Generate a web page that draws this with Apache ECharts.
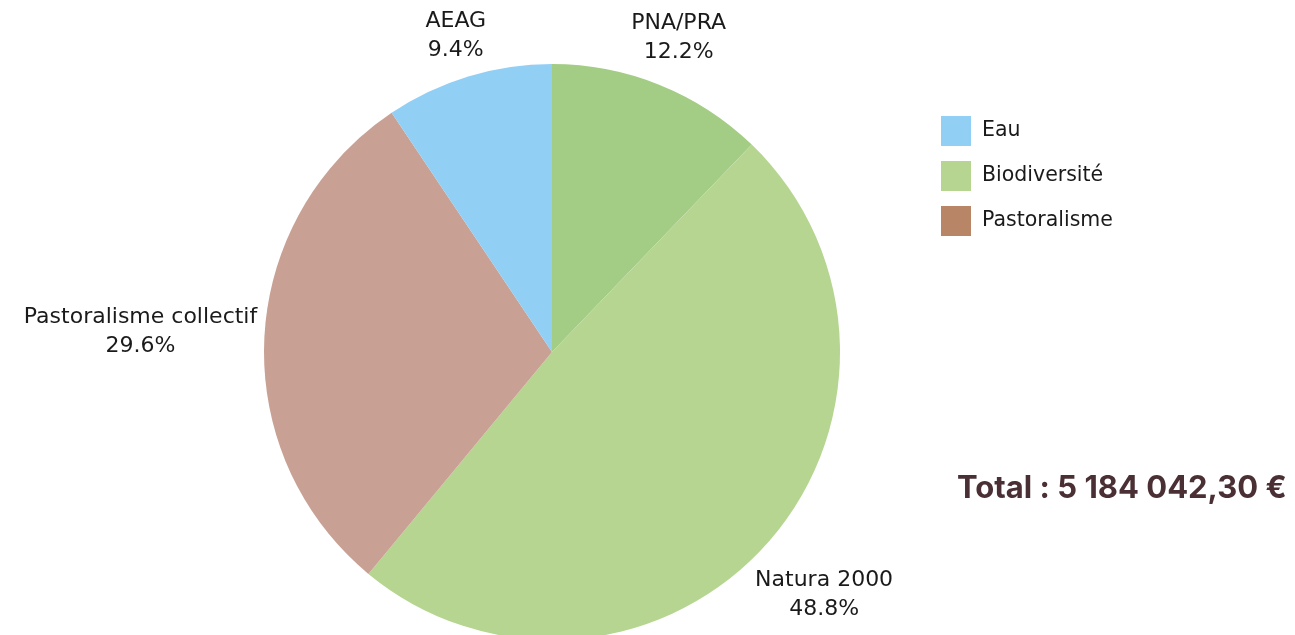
<!DOCTYPE html>
<html>
<head>
<meta charset="utf-8">
<script src="https://cdn.jsdelivr.net/npm/echarts@6/dist/echarts.min.js"></script>
<style>
  html, body { margin: 0; padding: 0; background: #fff; }
  #chart { width: 1295px; height: 635px; }
</style>
</head>
<body>
<div id="chart"></div>
<script>
// slices, clockwise from 12 o'clock
const sliceNames = ['PNA/PRA', 'Natura 2000', 'Pastoralisme collectif', 'AEAG'];
const sliceShares = [12.2, 48.8, 29.6, 9.4];
const sliceColors = ['#a3cc85', '#b5d591', '#c8a094', '#92cff5'];

// legend groups
const groupNames = ['Eau', 'Biodiversité', 'Pastoralisme'];
const groupColors = ['#92cff5', '#b5d591', '#b88566'];

const totalText = 'Total : 5 184 042,30 €';

const labelFont = '"DejaVu Sans", sans-serif';
const boldFont = 'Inter, "Noto Sans", sans-serif';

const cx = 552, cy = 352, R = 288;

// mid angle of each slice (radians, measured clockwise from 12 o'clock)
const shareSum = sliceShares.reduce((a, b) => a + b, 0);
const midAngles = [];
let acc = 0;
sliceShares.forEach(v => {
  midAngles.push((acc + v / 2) / shareSum * Math.PI * 2);
  acc += v;
});

const chart = echarts.init(document.getElementById('chart'));
chart.setOption({
  animation: false,
  title: {
    text: totalText,
    left: 952,
    top: 468,
    textStyle: { fontFamily: boldFont, fontSize: 31, fontWeight: 'bold', color: '#4a3035' }
  },
  legend: {
    orient: 'vertical',
    left: 936,
    top: 111,
    icon: 'rect',
    itemWidth: 30,
    itemHeight: 30,
    itemGap: 15,
    data: groupNames,
    textStyle: { fontFamily: labelFont, fontSize: 20.5, color: '#1a1a1a', padding: [0, 0, 0, 6] }
  },
  series: [
    {
      type: 'pie',
      center: [cx, cy],
      radius: R,
      startAngle: 90,
      clockwise: true,
      label: {
        show: true,
        position: 'outside',
        formatter: '{b}\n{c}%',
        fontFamily: labelFont,
        fontSize: 22,
        lineHeight: 29,
        color: '#1a1a1a',
        overflow: 'none'
      },
      labelLine: { show: false },
      // place each label just outside the rim, centred along the slice's mid angle
      labelLayout: function (p) {
        const a = midAngles[p.dataIndex];
        const dx = Math.sin(a), dy = -Math.cos(a);
        const w = p.labelRect.width, h = p.labelRect.height;
        const d = R + 6 + Math.abs(dx) * w / 2 + Math.abs(dy) * h / 2;
        return { x: cx + dx * d, y: cy + dy * d, align: 'center', verticalAlign: 'middle' };
      },
      emphasis: { disabled: true },
      data: sliceNames.map((n, i) => ({
        name: n, value: sliceShares[i], itemStyle: { color: sliceColors[i] }
      }))
    },
    {
      type: 'pie',
      center: [cx, cy],
      radius: [0, 0],
      silent: true,
      label: { show: false },
      labelLine: { show: false },
      data: groupNames.map((n, i) => ({
        name: n, value: 1, itemStyle: { color: groupColors[i] }
      }))
    }
  ]
});
</script>
</body>
</html>
